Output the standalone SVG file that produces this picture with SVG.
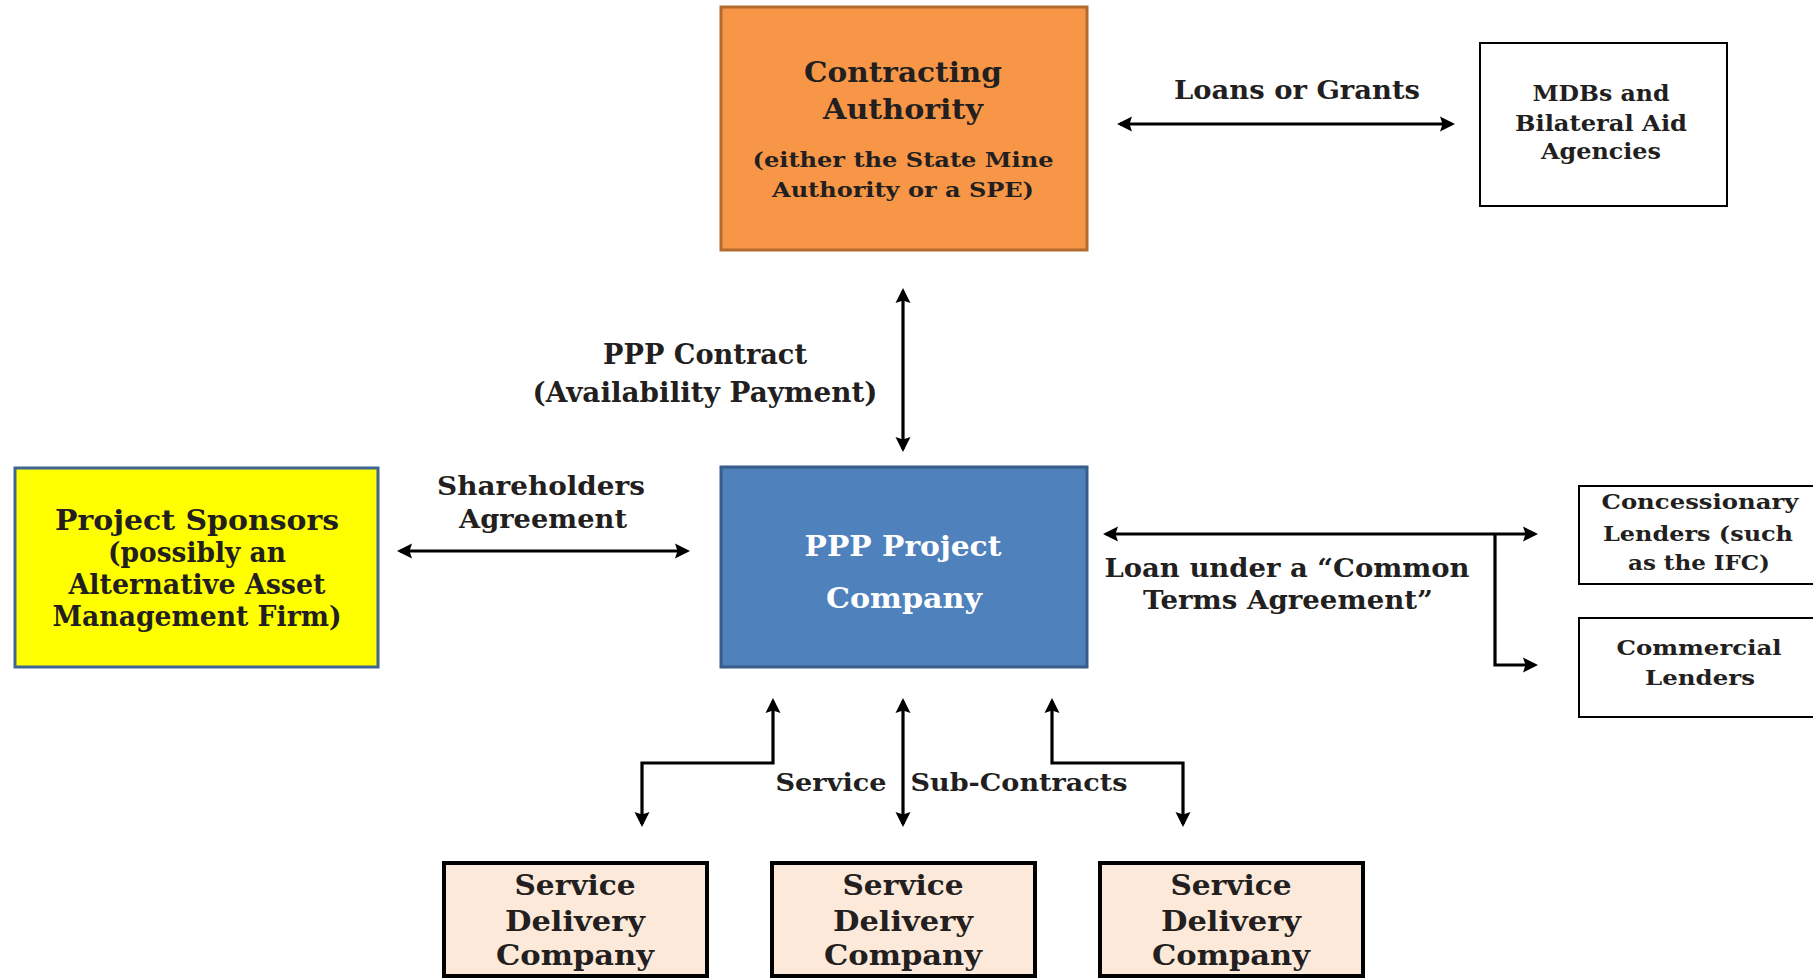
<svg xmlns="http://www.w3.org/2000/svg" width="1813" height="978" viewBox="0 0 1813 978">
<style>
text{font-family:"DejaVu Serif","Liberation Serif",serif;font-weight:bold;fill:#231f20;text-anchor:middle}
.w{fill:#ffffff}
.ln{fill:none;stroke:#000;stroke-width:3.2;marker-start:url(#ah);marker-end:url(#ah)}
.le{fill:none;stroke:#000;stroke-width:3.2;marker-end:url(#ah)}
.plain{fill:#fff;stroke:#000;stroke-width:2}
.sd{fill:#fde9d9;stroke:#000;stroke-width:4}
</style>
<defs>
<marker id="ah" markerUnits="userSpaceOnUse" markerWidth="17" markerHeight="17" viewBox="0 0 17 17" refX="13" refY="8.5" orient="auto-start-reverse">
<path d="M1,1 L16,8.5 L1,16 L3.5,8.5 z" fill="#000"/>
</marker>
</defs>
<rect width="1813" height="978" fill="#fff"/>
<g id="connectors">
<line class="ln" x1="1120" y1="124" x2="1452" y2="124"/>
<line class="ln" x1="903" y1="291" x2="903" y2="449"/>
<line class="ln" x1="400" y1="551" x2="687" y2="551"/>
<line class="ln" x1="1106" y1="534" x2="1535" y2="534"/>
<path class="le" d="M1495,534 V665 H1535"/>
<path class="ln" d="M773,701 V763 H642 V824"/>
<path class="ln" d="M903,701 V824"/>
<path class="ln" d="M1052,701 V763 H1183 V824"/>
</g>
<g id="labels">
<text x="1297" y="99" font-size="26" textLength="246" lengthAdjust="spacingAndGlyphs">Loans or Grants</text>
<text x="705" y="364" font-size="27" textLength="204" lengthAdjust="spacingAndGlyphs">PPP Contract</text>
<text x="705" y="402" font-size="27" textLength="345" lengthAdjust="spacingAndGlyphs">(Availability Payment)</text>
<text x="541" y="495" font-size="26" textLength="208" lengthAdjust="spacingAndGlyphs">Shareholders</text>
<text x="543" y="528" font-size="26" textLength="168" lengthAdjust="spacingAndGlyphs">Agreement</text>
<text x="1287" y="577" font-size="26" textLength="365" lengthAdjust="spacingAndGlyphs">Loan under a “Common</text>
<text x="1288" y="609" font-size="26" textLength="290" lengthAdjust="spacingAndGlyphs">Terms Agreement”</text>
<text x="831" y="791" font-size="25" textLength="111" lengthAdjust="spacingAndGlyphs">Service</text>
<text x="1019" y="791" font-size="25" textLength="217" lengthAdjust="spacingAndGlyphs">Sub-Contracts</text>
</g>
<g id="contracting-authority">
<rect x="721" y="7" width="366" height="243" fill="#f79646" stroke="#b36a2e" stroke-width="3"/>
<text x="903" y="82" font-size="28" textLength="198" lengthAdjust="spacingAndGlyphs">Contracting</text>
<text x="903" y="119" font-size="28" textLength="160" lengthAdjust="spacingAndGlyphs">Authority</text>
<text x="903" y="167" font-size="21" textLength="301" lengthAdjust="spacingAndGlyphs">(either the State Mine</text>
<text x="903" y="197" font-size="21" textLength="262" lengthAdjust="spacingAndGlyphs">Authority or a SPE)</text>
</g>
<g id="mdbs">
<rect class="plain" x="1480" y="43" width="247" height="163"/>
<text x="1601" y="101" font-size="23" textLength="137" lengthAdjust="spacingAndGlyphs">MDBs and</text>
<text x="1601" y="131" font-size="23" textLength="172" lengthAdjust="spacingAndGlyphs">Bilateral Aid</text>
<text x="1601" y="159" font-size="23" textLength="120" lengthAdjust="spacingAndGlyphs">Agencies</text>
</g>
<g id="project-sponsors">
<rect x="15" y="468" width="363" height="199" fill="#ffff00" stroke="#3f6593" stroke-width="3"/>
<text x="197" y="530" font-size="27" textLength="284" lengthAdjust="spacingAndGlyphs">Project Sponsors</text>
<text x="197" y="562" font-size="27" textLength="178" lengthAdjust="spacingAndGlyphs">(possibly an</text>
<text x="197" y="594" font-size="27" textLength="257" lengthAdjust="spacingAndGlyphs">Alternative Asset</text>
<text x="197" y="626" font-size="27" textLength="289" lengthAdjust="spacingAndGlyphs">Management Firm)</text>
</g>
<g id="ppp-project-company">
<rect x="721" y="467" width="366" height="200" fill="#4f81bd" stroke="#385d8a" stroke-width="3"/>
<text class="w" x="903" y="556" font-size="28" textLength="197" lengthAdjust="spacingAndGlyphs">PPP Project</text>
<text class="w" x="904" y="608" font-size="28" textLength="156" lengthAdjust="spacingAndGlyphs">Company</text>
</g>
<g id="concessionary-lenders">
<rect class="plain" x="1579" y="486" width="240" height="98"/>
<text x="1700" y="509" font-size="21" textLength="197" lengthAdjust="spacingAndGlyphs">Concessionary</text>
<text x="1698" y="541" font-size="21" textLength="190" lengthAdjust="spacingAndGlyphs">Lenders (such</text>
<text x="1699" y="570" font-size="21" textLength="142" lengthAdjust="spacingAndGlyphs">as the IFC)</text>
</g>
<g id="commercial-lenders">
<rect class="plain" x="1579" y="618" width="240" height="99"/>
<text x="1699" y="655" font-size="21" textLength="165" lengthAdjust="spacingAndGlyphs">Commercial</text>
<text x="1700" y="685" font-size="21" textLength="110" lengthAdjust="spacingAndGlyphs">Lenders</text>
</g>
<g id="service-delivery-1">
<rect class="sd" x="444" y="863" width="263" height="113"/>
<text x="575" y="895" font-size="27" textLength="121" lengthAdjust="spacingAndGlyphs">Service</text>
<text x="575" y="931" font-size="27" textLength="140" lengthAdjust="spacingAndGlyphs">Delivery</text>
<text x="575" y="965" font-size="27" textLength="158" lengthAdjust="spacingAndGlyphs">Company</text>
</g>
<g id="service-delivery-2">
<rect class="sd" x="772" y="863" width="263" height="113"/>
<text x="903" y="895" font-size="27" textLength="121" lengthAdjust="spacingAndGlyphs">Service</text>
<text x="903" y="931" font-size="27" textLength="140" lengthAdjust="spacingAndGlyphs">Delivery</text>
<text x="903" y="965" font-size="27" textLength="158" lengthAdjust="spacingAndGlyphs">Company</text>
</g>
<g id="service-delivery-3">
<rect class="sd" x="1100" y="863" width="263" height="113"/>
<text x="1231" y="895" font-size="27" textLength="121" lengthAdjust="spacingAndGlyphs">Service</text>
<text x="1231" y="931" font-size="27" textLength="140" lengthAdjust="spacingAndGlyphs">Delivery</text>
<text x="1231" y="965" font-size="27" textLength="158" lengthAdjust="spacingAndGlyphs">Company</text>
</g>
</svg>
